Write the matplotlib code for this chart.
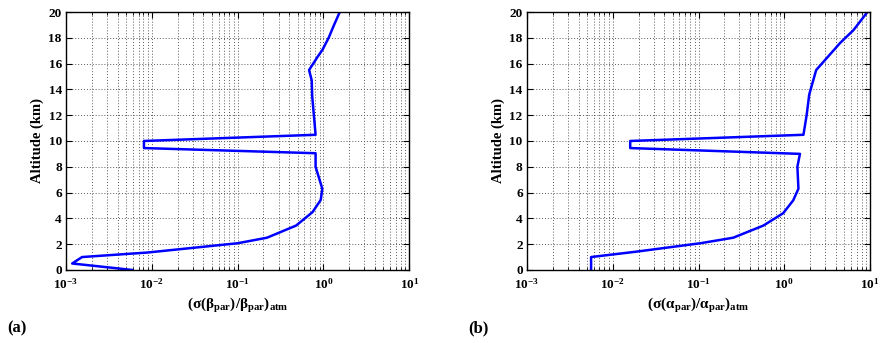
import math
import matplotlib
matplotlib.use("Agg")
import matplotlib.pyplot as plt
from matplotlib.ticker import FixedLocator, FuncFormatter, LogLocator, NullFormatter

plt.rcParams['font.family'] = ['Liberation Serif', 'DejaVu Serif']
plt.rcParams['font.weight'] = 'bold'
plt.rcParams['mathtext.fontset'] = 'custom'
plt.rcParams['mathtext.rm'] = 'Liberation Serif:bold'
plt.rcParams['mathtext.it'] = 'Liberation Serif:bold'
plt.rcParams['mathtext.bf'] = 'Liberation Serif:bold'

# panel (a): relative error of beta_par vs altitude
alt_a = [0.0, 0.5, 1.0, 1.35, 2.07, 2.5, 3.44, 4.48, 5.43, 6.3, 8.0, 9.05, 9.45, 10.0,
         10.48, 13.45, 14.7, 15.5, 16.5, 17.1, 18.0, 19.0, 20.0]
err_a = [0.0059, 0.00118, 0.00154, 0.0089, 0.1, 0.22, 0.48, 0.745, 0.93, 0.97, 0.81, 0.81,
         0.0081, 0.0081, 0.81, 0.74, 0.73, 0.68, 0.85, 0.98, 1.15, 1.33, 1.55]

# panel (b): relative error of alpha_par vs altitude
alt_b = [0.0, 1.0, 1.42, 2.07, 2.5, 3.44, 4.4, 5.4, 6.3, 8.0, 9.0, 9.45, 10.0,
         10.48, 12.0, 13.6, 15.5, 17.6, 18.6, 20.0]
err_b = [0.0056, 0.0056, 0.019, 0.105, 0.254, 0.57, 0.97, 1.27, 1.46, 1.42, 1.52, 0.016, 0.016,
         1.67, 1.82, 1.95, 2.35, 4.47, 6.4, 9.3]

xlabels = [r'$\mathbf{(\sigma(\beta_{par})/\beta_{par})_{atm}}$',
           r'$\mathbf{(\sigma(\alpha_{par})/\alpha_{par})_{atm}}$']
panel_tags = ['(a)', '(b)']

fig = plt.figure(figsize=(8.87, 3.43), dpi=100)
lefts = [0.0744, 0.594]
tag_x = [0.008, 0.528]

for i, (alt, err) in enumerate([(alt_a, err_a), (alt_b, err_b)]):
    ax = fig.add_axes([lefts[i], 0.213, 0.387, 0.752])
    ax.plot(err, alt, color='#0000ff', lw=1.8)
    ax.set_xscale('log')
    ax.set_xlim(1e-3, 1e1)
    ax.set_ylim(0, 20)
    ax.yaxis.set_major_locator(FixedLocator(range(0, 21, 2)))
    ax.xaxis.set_major_locator(LogLocator(base=10, numticks=10))
    ax.xaxis.set_minor_locator(LogLocator(base=10, subs=range(2, 10), numticks=20))
    ax.xaxis.set_minor_formatter(NullFormatter())
    ax.xaxis.set_major_formatter(FuncFormatter(
        lambda v, p: r'$\mathbf{10^{%d}}$' % round(math.log10(v))))
    ax.grid(True, which='major', color='0.35', ls=(0, (1, 2)), lw=0.7)
    ax.grid(True, which='minor', axis='x', color='0.35', ls=(0, (1, 2)), lw=0.7)
    ax.tick_params(which='both', direction='in', top=True, right=True)
    ax.tick_params(axis='y', labelsize=9.5, pad=3)
    ax.tick_params(axis='x', labelsize=9.5, pad=5)
    ax.tick_params(which='major', length=4)
    ax.tick_params(which='minor', length=2)
    for s in ax.spines.values():
        s.set_linewidth(1.0)
    ax.set_ylabel('Altitude (km)', fontsize=10.5, fontweight='bold', labelpad=3)
    ax.set_xlabel(xlabels[i], fontsize=11, labelpad=3)
    fig.text(tag_x[i], 0.03, panel_tags[i], fontsize=12, fontweight='bold')

fig.savefig('out.png', dpi=100)
